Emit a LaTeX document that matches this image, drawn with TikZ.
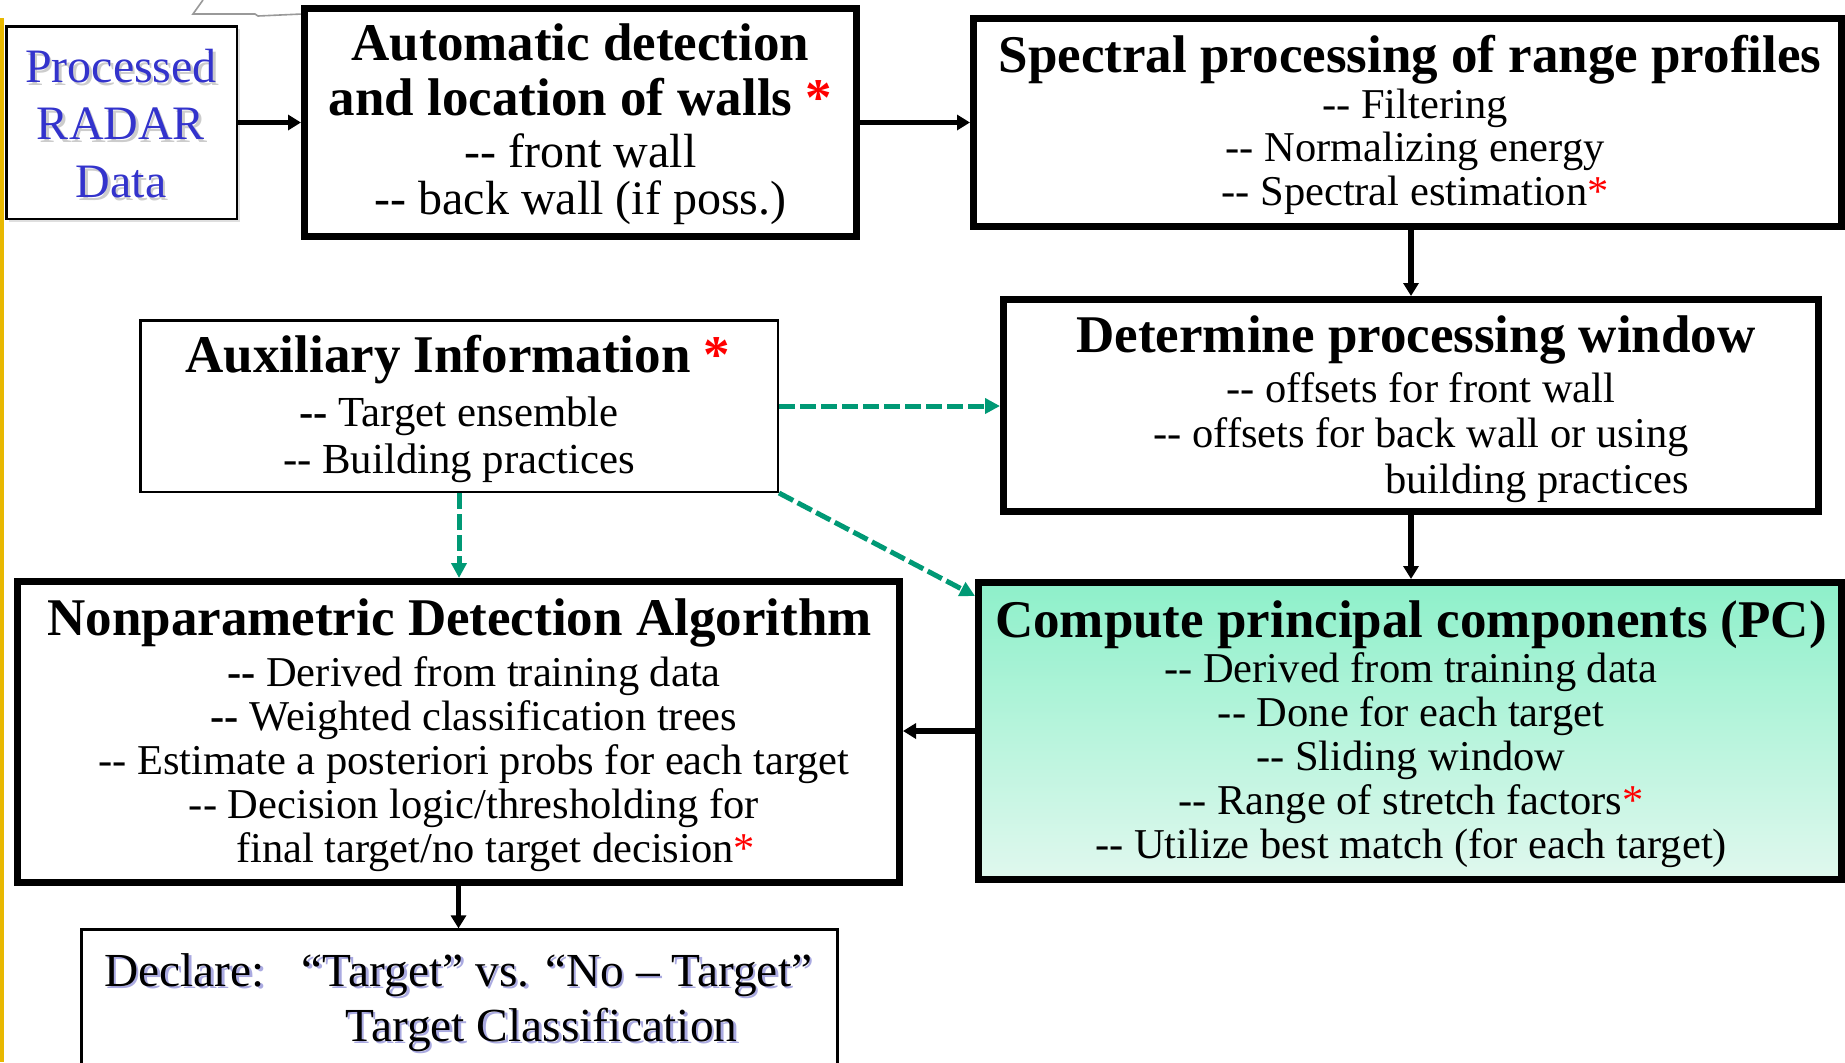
\documentclass[tikz,border=0pt]{standalone}
\usepackage{fontspec}
\setmainfont{Liberation Serif}
\usetikzlibrary{arrows.meta,shadows,calc}
\definecolor{dgreen}{RGB}{0,153,117}
\definecolor{radarblue}{RGB}{51,51,204}
\definecolor{pctop}{RGB}{142,240,202}
\definecolor{pcbot}{RGB}{224,248,238}
\definecolor{goldline}{RGB}{232,184,0}
\definecolor{lav}{RGB}{170,170,225}
\newcommand\dd{\mbox{-}\mbox{-}}
\newcommand\rstar{\textcolor{red}{*}}
\newcommand\bodylines[1]{\begin{tabular}[t]{@{}c@{}}#1\end{tabular}}
\begin{document}
\begin{tikzpicture}[x=0.5pt,y=-0.5pt,
  thickbox/.style={draw, line width=3.5pt, inner sep=0pt, fill=white},
  thinbox/.style={draw, line width=1.25pt, inner sep=0pt, fill=white},
  ttl/.style={inner sep=0pt, anchor=base, font={\fontsize{26.5}{27.5}\selectfont\bfseries}},
  txt/.style={inner sep=0pt, anchor=base},
  arr/.style={line width=2.75pt, -{Triangle[length=6.5pt,width=7.5pt]}},
  garr/.style={line width=2.5pt, draw=dgreen, dash pattern=on 8pt off 2.5pt, -{Triangle[length=7.5pt,width=7.5pt,fill=dgreen]}}]
\useasboundingbox (0,0) rectangle (1845,1062);
\clip (0,0) rectangle (1845,1062);
\fill[white] (0,0) rectangle (1845,1062);

% fragments at the edges
\draw[goldline, line width=2pt] (2,18) -- (2,1062);
\draw[gray!80, line width=0.8pt] (203,0) -- (193,14) -- (255,14) -- (258,16) -- (302,14);

% boxes
\node[thinbox, minimum width=115.25pt, minimum height=96.25pt,
      drop shadow={shadow xshift=1.5pt, shadow yshift=-1.5pt, opacity=0.25, fill=gray}] (proc) at (121.5,122.5) {};
\node[thickbox, minimum width=276pt, minimum height=114pt] (auto) at (580.5,122.5) {};
\node[thickbox, minimum width=434pt, minimum height=104pt] (spec) at (1407.5,122.5) {};
\node[thickbox, minimum width=407.5pt, minimum height=106pt] (det) at (1411,405.5) {};
\node[thinbox, minimum width=318.75pt, minimum height=85.75pt] (aux) at (459,406) {};
\node[thickbox, minimum width=441pt, minimum height=150.5pt] (np) at (458.5,732) {};
\node[thickbox, top color=pctop, bottom color=pcbot, minimum width=431.5pt, minimum height=148.5pt] (pc) at (1410,731) {};
\node[thinbox, minimum width=377.9pt, minimum height=85.2pt] (dec) at (459.5,1014.8) {};

% texts
\node[txt, text=gray!40, font={\fontsize{24}{28.75}\selectfont}] (procsh) at (123.5,85) {\bodylines{Processed\\RADAR\\Data}};
\node[txt, text=radarblue, font={\fontsize{24}{28.75}\selectfont}] (proct) at (121,82) {\bodylines{Processed\\RADAR\\Data}};

\node[ttl] (autot) at (580.5,60) {\bodylines{Automatic detection\\and location of walls \rstar}};
\node[txt, font={\fontsize{24}{23}\selectfont}] (autob) at (580.5,167) {\bodylines{\dd{} front wall\\\dd{} back wall (if poss.)}};

\node[ttl] (spect) at (1410,72) {Spectral processing of range profiles};
\node[txt, font={\fontsize{21.25}{21.75}\selectfont}] (specb) at (1415,118) {\bodylines{\dd{} Filtering\\\dd{} Normalizing energy\\\dd{} Spectral estimation\rstar}};

\node[ttl] (dett) at (1416,352) {Determine processing window};
\node[txt, font={\fontsize{21.25}{22.75}\selectfont}] (detb) at (1421,402) {\bodylines{\dd{} offsets for front wall\\\dd{} offsets for back wall or using\\\multicolumn{1}{@{}r@{}}{building practices}}};

\node[ttl] (auxt) at (458,372) {Auxiliary Information \rstar};
\node[txt, font={\fontsize{21.4}{23.5}\selectfont}] (auxb) at (459,426) {\bodylines{\textbf{\dd} Target ensemble\\\dd{} Building practices}};

\node[ttl] (npt) at (459.5,635) {Nonparametric Detection Algorithm};
\node[txt, font={\fontsize{21.25}{22.1}\selectfont}] (npb) at (474,686) {\bodylines{\textbf{\dd} Derived from training data\\\textbf{\dd} Weighted classification trees\\\dd{} Estimate a posteriori probs for each target\\\dd{} Decision logic/thresholding for\\\hspace*{21.5pt}final target/no target decision\rstar}};

\node[ttl] (pct) at (1411,637) {Compute principal components (PC)};
\node[txt, font={\fontsize{21.25}{22}\selectfont}] (pcb) at (1411,682) {\bodylines{\dd{} Derived from training data\\\dd{} Done for each target\\\dd{} Sliding window\\\dd{} Range of stretch factors\rstar\\\dd{} Utilize best match (for each target)}};

\node[txt, anchor=base west, text=lav, font={\fontsize{23.7}{27.7}\selectfont}] (decsh) at (106.5,988.5) {\begin{tabular}[t]{@{}l@{}}Declare:\hspace{18.5pt}“Target” vs. “No – Target”\\\hspace*{120.5pt}Target Classification\end{tabular}};
\node[txt, anchor=base west, font={\fontsize{23.7}{27.7}\selectfont}] (dect) at (104,986) {\begin{tabular}[t]{@{}l@{}}Declare:\hspace{18.5pt}“Target” vs. “No – Target”\\\hspace*{120.5pt}Target Classification\end{tabular}};

% connectors
\coordinate (pcin) at ($(pc.north west)+(0,17)$);
\draw[arr] (proc.east) -- (proc.east -| auto.west);
\draw[arr] (auto.east) -- (auto.east -| spec.west);
\draw[arr] (spec.south -| det.north) -- (det.north);
\draw[arr] (det.south) -- (det.south |- pc.north);
\draw[arr] (pc.west) -- (pc.west -| np.east);
\draw[arr] (np.south) -- (np.south |- dec.north);
\draw[garr] (aux.east) -- (aux.east -| det.west);
\draw[garr] (aux.south) -- (aux.south |- np.north);
\draw[garr] (aux.south east) -- (pcin);
\end{tikzpicture}
\end{document}
